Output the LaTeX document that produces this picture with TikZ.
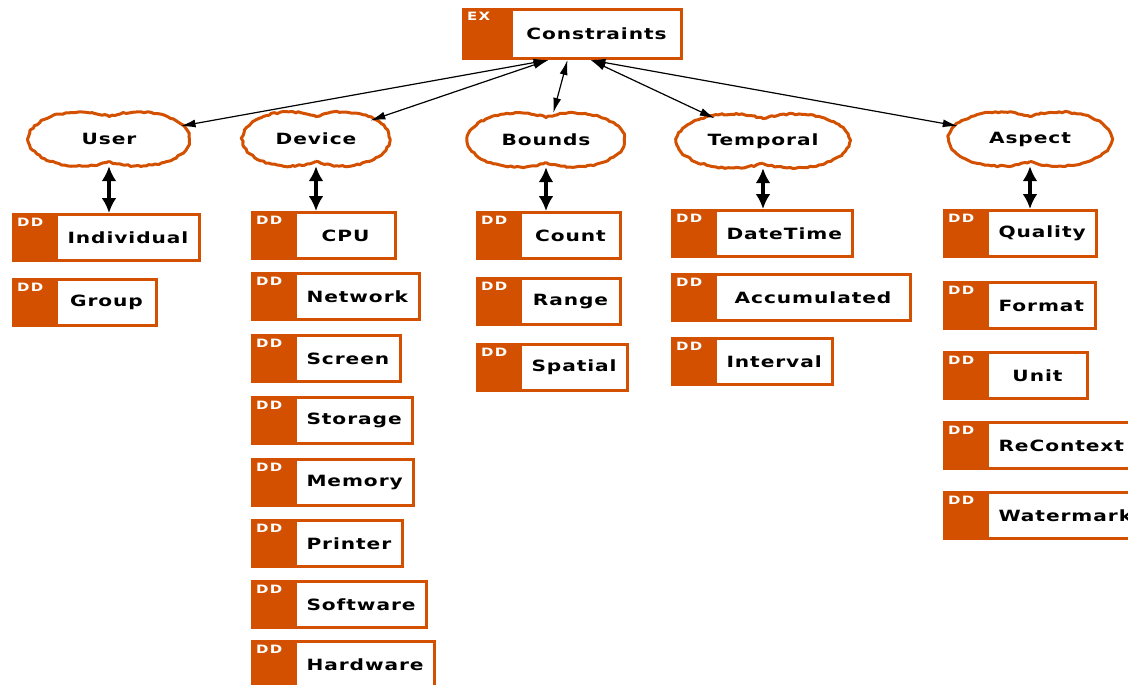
\documentclass[tikz,border=0pt]{standalone}
\usepackage{fontspec}
\usepackage{tikz}
\usetikzlibrary{arrows.meta,calc,shapes.geometric,decorations.pathmorphing}
\newfontfamily\boxfont[FakeStretch=1.3,LetterSpace=6]{DejaVu Sans}
\newfontfamily\tagfont[FakeStretch=1.3,LetterSpace=12]{DejaVu Sans}
\definecolor{ddorange}{HTML}{D25000}
\def\blob(#1)(#2:#3){\draw[blobline] ($(#1.center)+(0,{#3*sin(56)})$) arc[start angle=56, end angle=304, x radius=#2, y radius=#3] arc[start angle=236, end angle=484, x radius=#2, y radius=#3] -- cycle;}

\tikzset{
	ddtag/.style={fill=ddorange, text=white, font=\tagfont\bfseries\fontsize{11.5}{11.5}\selectfont, text width=33pt, align=left, text height=8pt, text depth=31pt, inner xsep=5pt, inner ysep=5pt, outer sep=0pt},
	extag/.style={ddtag, text width=38pt, text depth=34pt},
	plainbox/.style={draw=ddorange, line width=3pt, fill=white, font=\boxfont\bfseries\fontsize{15.5}{15.5}\selectfont, minimum width=100pt, minimum height=46pt, inner xsep=11pt, anchor=north west},
	ddbox/.style={plainbox, label={[ddtag]west:DD}},
	exbox/.style={plainbox, minimum width=170pt, minimum height=49pt, label={[extag]west:EX}},
	cloudnode/.style={ellipse, font=\boxfont\bfseries\fontsize{15.5}{15.5}\selectfont, minimum height=54pt, inner sep=0pt},
	blobline/.style={draw=ddorange, line width=3pt, line join=round, decorate, decoration={random steps, segment length=3pt, amplitude=0.8pt}},
	link/.style={black, line width=1.2pt, {Latex[length=15pt,width=8pt]}-{Latex[length=15pt,width=8pt]}},
	tie/.style={black, line width=4.5pt, {Latex[length=15pt,width=15pt]}-{Latex[length=15pt,width=15pt]}}
}

\begin{document}
\begin{tikzpicture}[x=1pt, y=-1pt]
			%%%%% START %%%%%
			\useasboundingbox (0,0) rectangle (1128,685);
			\pgfmathsetseed{7}
			
			\node[exbox] (con) at (510,8) {Constraints};
			
			\node[cloudnode, minimum width=162pt] (user) at (109,139) {User};
			\node[cloudnode, minimum width=148pt] (device) at (316,139) {Device};
			\node[cloudnode, minimum width=158pt] (bounds) at (546,140) {Bounds};
			\node[cloudnode, minimum width=174pt] (temporal) at (763,141) {Temporal};
			\node[cloudnode, minimum width=164pt] (aspect) at (1030,139) {Aspect};
			
			\blob(user)(51.7:27)
			\blob(device)(47.2:27)
			\blob(bounds)(50.4:27)
			\blob(temporal)(55.5:27)
			\blob(aspect)(52.3:27)
			
			\node[ddbox] (indiv) at (55,213) {Individual};
			\node[ddbox] (group) at (55,278) {Group};
			
			\node[ddbox] (cpu) at (294,211) {CPU};
			\node[ddbox] (network) at (294,272) {Network};
			\node[ddbox] (screen) at (294,334) {Screen};
			\node[ddbox] (storage) at (294,396) {Storage};
			\node[ddbox] (memory) at (294,458) {Memory};
			\node[ddbox] (printer) at (294,519) {Printer};
			\node[ddbox] (software) at (294,580) {Software};
			\node[ddbox] (hardware) at (294,640) {Hardware};
			
			\node[ddbox] (count) at (519,211) {Count};
			\node[ddbox] (range) at (519,277) {Range};
			\node[ddbox] (spatial) at (519,343) {Spatial};
			
			\node[ddbox] (datetime) at (714,209) {DateTime};
			\node[ddbox, minimum width=195pt] (accum) at (714,273) {Accumulated};
			\node[ddbox] (interval) at (714,337) {Interval};
			
			\node[ddbox] (quality) at (986,209) {Quality};
			\node[ddbox] (format) at (986,281) {Format};
			\node[ddbox] (unit) at (986,351) {Unit};
			\node[ddbox] (recontext) at (986,421) {ReContext};
			\node[ddbox] (watermark) at (986,491) {Watermark};
			
			\draw[link] ([xshift=-48]con.south) -- (user);
			\draw[link] ([xshift=-48]con.south) -- (device);
			\draw[link] ([xshift=-29]con.south) -- (bounds);
			\draw[link] ([xshift=-6]con.south) -- (temporal);
			\draw[link] ([xshift=-6]con.south) -- (aspect);
			
			\draw[tie] (user.south) -- (user.south |- indiv.north);
			\draw[tie] (device.south) -- (device.south |- cpu.north);
			\draw[tie] (bounds.south) -- (bounds.south |- count.north);
			\draw[tie] (temporal.south) -- (temporal.south |- datetime.north);
			\draw[tie] (aspect.south) -- (aspect.south |- quality.north);
			
			%%%%% END %%%%%
\end{tikzpicture}
\end{document}
